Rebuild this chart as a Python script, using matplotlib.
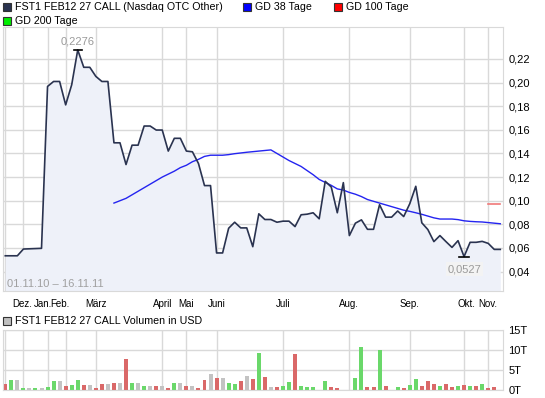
import numpy as np
import matplotlib.pyplot as plt
import matplotlib.transforms as mtrans
from matplotlib.patches import Rectangle
from matplotlib.ticker import FuncFormatter

plt.rcParams['font.family'] = ['Liberation Sans', 'DejaVu Sans']

# daily closing prices (one value per trading point)
price = [0.0534, 0.0534, 0.0534, 0.0591, 0.0593, 0.0595, 0.0597, 0.1967, 0.2009, 0.2009,
         0.1811, 0.1981, 0.2276, 0.2129, 0.2129, 0.2052, 0.2009, 0.2009, 0.1490, 0.1490,
         0.1306, 0.1470, 0.1470, 0.1632, 0.1632, 0.1598, 0.1598, 0.1420, 0.1528, 0.1528,
         0.1420, 0.1414, 0.1315, 0.1128, 0.1128, 0.0558, 0.0558, 0.0767, 0.0818, 0.0770,
         0.0770, 0.0611, 0.0889, 0.0841, 0.0841, 0.0818, 0.0827, 0.0827, 0.0781, 0.0881,
         0.0886, 0.0898, 0.0847, 0.1164, 0.1116, 0.0898, 0.1153, 0.0705, 0.0810, 0.0838,
         0.0758, 0.0758, 0.0966, 0.0861, 0.0861, 0.0913, 0.0866, 0.0974, 0.1122, 0.0813,
         0.0756, 0.0654, 0.0705, 0.0654, 0.0605, 0.0662, 0.0527, 0.0648, 0.0648, 0.0656,
         0.0639, 0.0588, 0.0588]

# GD 38 Tage starts at point 18
gd38_start = 18
gd38 = [0.0980, 0.1000, 0.1020, 0.1050, 0.1080, 0.1110, 0.1140, 0.1170, 0.1200, 0.1225,
        0.1250, 0.1280, 0.1300, 0.1330, 0.1350, 0.1375, 0.1385, 0.1385, 0.1385, 0.1390,
        0.1398, 0.1404, 0.1410, 0.1415, 0.1420, 0.1425, 0.1430, 0.1400, 0.1370, 0.1340,
        0.1315, 0.1290, 0.1255, 0.1220, 0.1180, 0.1155, 0.1130, 0.1100, 0.1090, 0.1070,
        0.1055, 0.1035, 0.1010, 0.0995, 0.0980, 0.0965, 0.0950, 0.0935, 0.0920, 0.0910,
        0.0898, 0.0885, 0.0870, 0.0855, 0.0845, 0.0845, 0.0845, 0.0840, 0.0830, 0.0825,
        0.0822, 0.0820, 0.0815, 0.0810, 0.0805]

# GD 100 Tage only at the last few points
gd100_start = 80
gd100 = [0.0975, 0.0975, 0.0975]

# volume in thousand USD, colour code: g=up, r=down, n=unchanged
volume = [1.33, 2.33, 2.33, 0.33, 0.33, 0.33, 0.33, 0.58, 2.08, 2.08,
          0.83, 1.08, 2.33, 1.08, 1.08, 0.33, 1.33, 1.33, 1.58, 1.58,
          7.58, 1.58, 1.58, 0.83, 0.83, 0.83, 0.83, 0.33, 1.58, 1.58,
          0.83, 0.83, 0.33, 2.33, 3.83, 2.83, 2.83, 1.58, 1.33, 2.08,
          3.33, 2.58, 9.08, 3.08, 0.58, 0.58, 0.83, 1.83, 8.83, 0.83,
          0.58, 0.58, 0.0, 2.08, 0.58, 0.33, 0.0, 0.0, 2.83, 10.58,
          0.58, 0.58, 9.83, 0.83, 0.0, 0.58, 0.33, 1.08, 2.58, 0.83,
          2.08, 1.33, 0.83, 1.33, 0.58, 0.83, 1.08, 0.83, 0.83, 1.33,
          0.33, 0.58, 0.0]
vol_dir = ['r', 'g', 'n', 'g', 'n', 'g', 'n', 'g', 'g', 'n',
           'r', 'g', 'g', 'r', 'n', 'r', 'r', 'n', 'r', 'n',
           'r', 'g', 'n', 'g', 'n', 'r', 'n', 'r', 'g', 'n',
           'r', 'n', 'r', 'r', 'n', 'r', 'n', 'g', 'g', 'r',
           'n', 'r', 'g', 'r', 'n', 'r', 'g', 'g', 'r', 'g',
           'g', 'g', 'n', 'g', 'r', 'r', 'n', 'n', 'g', 'g',
           'r', 'r', 'g', 'r', 'n', 'g', 'r', 'g', 'g', 'r',
           'r', 'r', 'g', 'r', 'r', 'g', 'r', 'g', 'r', 'g',
           'r', 'r', 'n']

month_idx = [0, 3, 7, 10, 15, 26, 30, 35, 46, 57, 67, 76, 80]
month_lbl = ['', 'Dez.', 'Jan.', 'Feb.', 'März', 'April', 'Mai', 'Juni',
             'Juli', 'Aug.', 'Sep.', 'Okt.', 'Nov.']
# labels that get pushed sideways so they don't collide (pixels)
month_shift = {'Dez.': -1, 'Jan.': -4.5, 'Feb.': -5.5, 'Okt.': 2}

W, H = 545, 398
def fx(x):
  return x / W
def fy(y):
  return 1 - y / H

navy = '#2a3350'
grid_c = '#d9d9d9'
dir_colors = {'g': '#6ad86a', 'r': '#da6868', 'n': '#c3c3c3'}

fig = plt.figure(figsize=(W / 100, H / 100), dpi=100)

# main price panel
ax = fig.add_axes([fx(3), fy(291), fx(500), 264 / H])
x = np.arange(len(price))
ymin, ymax = 0.0236, 0.247
ax.fill_between(x, price, ymin, color='#eef1f9', lw=0, zorder=1)
ax.plot(x, price, color=navy, lw=1.2, zorder=3)
ax.plot(np.arange(gd38_start, gd38_start + len(gd38)), gd38, color='#2424f0', lw=1.0, zorder=2)
ax.plot(np.arange(gd100_start, gd100_start + len(gd100)), gd100, color='#f07878', lw=1.2, zorder=2)

# max / min markers
imax = int(np.argmax(price))
imin = int(np.argmin(price))
ax.plot([imax - 0.7, imax + 0.7], [price[imax]] * 2, color='black', lw=1.2, zorder=4)
ax.plot([imin - 0.9, imin + 0.9], [price[imin]] * 2, color='black', lw=1.2, zorder=4)
ax.annotate(f'{price[imax]:.4f}'.replace('.', ','), (imax, price[imax]), xytext=(0, 6),
            textcoords='offset points', ha='center', va='center', fontsize=8, color='#9a9a9a')
ax.annotate(f'{price[imin]:.4f}'.replace('.', ','), (imin, price[imin]), xytext=(0, -9),
            textcoords='offset points', ha='center', va='center', fontsize=8, color='#9a9a9a',
            bbox=dict(boxstyle='square,pad=0.15', fc='#f3f3f3', ec='none'))

ax.set_xlim(-0.38, 82.45)
ax.set_ylim(ymin, ymax)
ax.set_yticks(np.arange(0.04, 0.2201, 0.02))
ax.yaxis.set_major_formatter(FuncFormatter(lambda v, _: f'{v:.2f}'.replace('.', ',')))
ax.yaxis.tick_right()
ax.set_xticks(month_idx)
ax.set_xticklabels(month_lbl)
ax.tick_params(axis='both', length=0, labelsize=8)
ax.tick_params(axis='y', pad=4)
ax.tick_params(axis='x', pad=5.5, labelsize=7)
for lbl in ax.get_xticklabels():
  dx = month_shift.get(lbl.get_text(), 0)
  if dx:
    lbl.set_transform(lbl.get_transform() + mtrans.ScaledTranslation(dx / 100, 0, fig.dpi_scale_trans))
ax.grid(True, color=grid_c, lw=1.0, zorder=0)
ax.set_axisbelow(True)
for s in ax.spines.values():
  s.set_color(grid_c)
ax.text(0.008, 0.008, '01.11.10 – 16.11.11', transform=ax.transAxes, fontsize=8,
        color='#a0a0a0', va='bottom', ha='left', zorder=5)

# volume panel
axv = fig.add_axes([fx(3), fy(389.5), fx(500), 59.8 / H])
axv.bar(x, volume, width=0.66, color=[dir_colors[d] for d in vol_dir], zorder=2)
axv.set_xlim(-0.38, 82.45)
axv.set_ylim(0, 15)
axv.set_yticks([0, 5, 10, 15])
axv.set_yticklabels(['0T', '5T', '10T', '15T'])
axv.yaxis.tick_right()
axv.set_xticks(month_idx)
axv.set_xticklabels([])
axv.tick_params(axis='both', length=0, labelsize=8)
axv.tick_params(axis='y', pad=4)
axv.grid(True, color=grid_c, lw=1.0, zorder=0)
axv.set_axisbelow(True)
for s in axv.spines.values():
  s.set_color(grid_c)

# legends drawn as little squares + text
def legend_item(x0, y0, color, label):
  fig.add_artist(Rectangle((fx(x0), fy(y0 + 8)), 8 / W, 8 / H, transform=fig.transFigure,
                           facecolor=color, edgecolor='#333333', lw=0.8))
  fig.text(fx(x0 + 12), fy(y0 + 4), label, fontsize=7.7, va='center', ha='left')

legend_item(3, 3, navy, 'FST1 FEB12 27 CALL (Nasdaq OTC Other)')
legend_item(243, 3, '#0000ff', 'GD 38 Tage')
legend_item(334, 3, '#ff0000', 'GD 100 Tage')
legend_item(3, 17, '#00ee00', 'GD 200 Tage')
legend_item(3, 317, '#c0c0c0', 'FST1 FEB12 27 CALL Volumen in USD')

fig.savefig('out.png', dpi=100)
